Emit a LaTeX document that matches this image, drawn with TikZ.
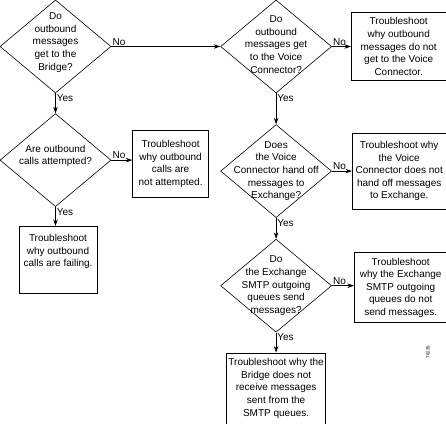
\documentclass[tikz,border=0pt]{standalone}
\usepackage{fontspec}
\setmainfont{Liberation Sans}
\usepackage{tikz}
\usetikzlibrary{arrows,arrows.meta,shapes.geometric,positioning}

\begin{document}
\begin{tikzpicture}[->,>={Stealth[length=6.5pt,width=4.5pt]},shorten >=0pt,x=1pt,y=-1pt,semithick,
  every node/.style={font=\fontsize{10}{12.6}\selectfont}]
\tikzstyle{question}=[diamond,draw,inner sep=0pt,minimum width=111pt,minimum height=93pt]
\tikzstyle{fix}=[rectangle,draw,align=center,inner sep=2pt]
\tikzstyle{txt}=[align=center,inner sep=0pt]
\tikzstyle{answer}=[inner sep=1pt,pos=0]

\useasboundingbox (0,0) rectangle (446,423);

% left column
\node[question,label={[txt,yshift=4pt]center:Do\\outbound\\messages\\get to the\\Bridge?}] (bridge) at (55.5,46.5) {};
\node[question,label={[txt,yshift=4pt]center:Are outbound\\calls attempted?}] (attempted) [below=20pt of bridge] {};
\node[fix,minimum width=76pt,minimum height=67pt,yshift=-4pt] (notattempted) [right=21pt of attempted] {Troubleshoot\\why outbound\\calls are\\not attempted.};
\node[fix,minimum width=78pt,minimum height=67pt,xshift=2.5pt,text depth=18pt] (failing) [below=19pt of attempted] {Troubleshoot\\why outbound\\calls are failing.};

% right column
\node[question,label={[txt,yshift=2pt]center:Do\\outbound\\messages get\\to the Voice\\Connector?}] (voice) [right=109pt of bridge] {};
\node[fix,minimum width=95pt,minimum height=68pt] (novoice) [right=19pt of voice] {Troubleshoot\\why outbound\\messages do not\\get to the Voice\\Connector.};
\node[question,label={[txt]center:Does\\the Voice\\Connector hand off\\messages to\\Exchange?}] (handoff) [below=31pt of voice] {};
\node[fix,minimum width=94pt,minimum height=76pt] (nohandoff) [right=20pt of handoff] {Troubleshoot why\\the Voice\\Connector does not\\hand off messages\\to Exchange.};
\node[question,label={[txt]center:Do\\the Exchange\\SMTP outgoing\\queues send\\messages?}] (queues) [below=21pt of handoff] {};
\node[fix,minimum width=93pt,minimum height=70pt,yshift=-2pt] (noqueues) [right=22pt of queues] {Troubleshoot\\why the Exchange\\SMTP outgoing\\queues do not\\send messages.};
\node[fix,minimum width=99pt,minimum height=71pt,inner sep=1pt] (receive) [below=20pt of queues] {Troubleshoot why the\\Bridge does not\\receive messages\\sent from the\\SMTP queues.};

\node[rotate=90,font=\fontsize{4.5}{5}\selectfont,inner sep=0pt] (fignum) at (428,352) {78235};

\draw (bridge.east) -- node[answer,above right] {No} (voice.west);
\draw (bridge.south) -- node[answer,below right] {Yes} (attempted.north);
\draw (attempted.east) -- node[answer,above right] {No} (attempted.east -| notattempted.west);
\draw (attempted.south) -- node[answer,below right] {Yes} (attempted.south |- failing.north);
\draw (voice.east) -- node[answer,above right] {No} (novoice.west);
\draw (voice.south) -- node[answer,below right] {Yes} (handoff.north);
\draw (handoff.east) -- node[answer,above right] {No} (handoff.east -| nohandoff.west);
\draw (handoff.south) -- node[answer,below right] {Yes} (queues.north);
\draw (queues.east) -- node[answer,above right] {No} (queues.east -| noqueues.west);
\draw (queues.south) -- node[answer,below right] {Yes} (receive.north);
\end{tikzpicture}
\end{document}
